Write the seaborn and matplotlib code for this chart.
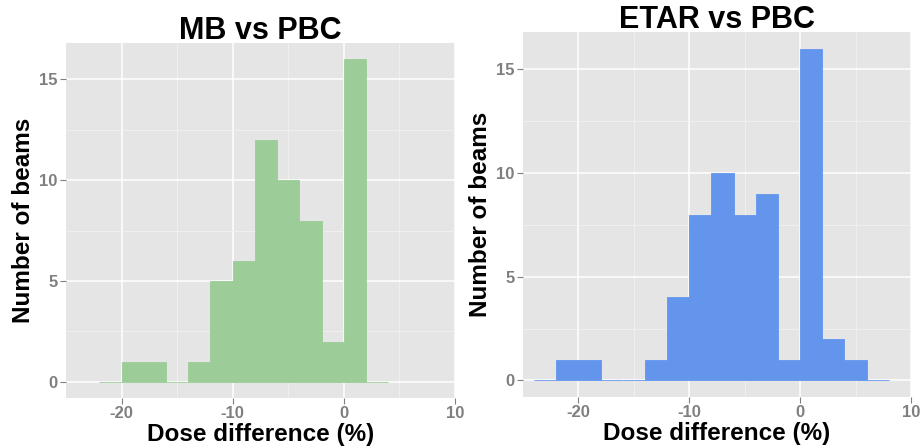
import numpy as np
import pandas as pd
import matplotlib
matplotlib.use("Agg")
import matplotlib.pyplot as plt
import seaborn as sns

# Histogram bins (2 % wide) and beam counts per bin
mb_edges = [-22, -20, -18, -16, -14, -12, -10, -8, -6, -4, -2, 0, 2, 4]
mb_counts = [0, 1, 1, 0, 1, 5, 6, 12, 10, 8, 2, 16, 0]

etar_edges = [-24, -22, -20, -18, -16, -14, -12, -10, -8, -6, -4, -2, 0, 2, 4, 6, 8]
etar_counts = [0, 1, 1, 0, 0, 1, 4, 8, 10, 8, 9, 1, 16, 2, 1, 0]

titles = ["MB vs PBC", "ETAR vs PBC"]
x_label = "Dose difference (%)"
y_label = "Number of beams"
x_ticks = [-20, -10, 0, 10]
y_ticks = [0, 5, 10, 15]

sns.set_theme(style="darkgrid", rc={
    "axes.facecolor": "#E5E5E5",
    "grid.color": "white",
    "axes.edgecolor": "#E5E5E5",
})
plt.rcParams["font.family"] = ["Liberation Sans", "DejaVu Sans"]
plt.rcParams["axes.unicode_minus"] = False

fig = plt.figure(figsize=(9.22, 4.48), dpi=100)
ax_left = fig.add_axes([0.0716, 0.1116, 0.4219, 0.7924])
ax_right = fig.add_axes([0.5672, 0.1138, 0.4208, 0.8147])

panels = [
    (ax_left, mb_edges, mb_counts, "#9CCD99", titles[0]),
    (ax_right, etar_edges, etar_counts, "#6495ED", titles[1]),
]

for ax, edges, counts, color, title in panels:
    centers = (np.array(edges[:-1]) + np.array(edges[1:])) / 2
    df = pd.DataFrame({"dose": centers, "n": counts})
    sns.histplot(data=df, x="dose", weights="n", bins=edges, ax=ax,
                 color=color, alpha=1.0, edgecolor=color, linewidth=0.6)
    ax.set_xlim(-25, 10)
    ax.set_ylim(-0.8, 16.8)
    ax.set_xticks(x_ticks)
    ax.set_yticks(y_ticks)
    ax.set_xticks([-15, -5, 5], minor=True)
    ax.set_yticks([2.5, 7.5, 12.5], minor=True)
    ax.grid(which="major", color="white", linewidth=1.1)
    ax.grid(which="minor", color="#F2F2F2", linewidth=0.6)
    ax.set_axisbelow(True)
    ax.tick_params(axis="both", which="major", length=4, width=0.8,
                   color="#7F7F7F", labelcolor="#7F7F7F", labelsize=12,
                   bottom=True, left=True, pad=2)
    ax.tick_params(which="minor", length=0)
    for lbl in ax.get_xticklabels() + ax.get_yticklabels():
        lbl.set_fontweight("bold")
    for s in ax.spines.values():
        s.set_visible(False)
    ax.set_xlabel(x_label, fontsize=17.5, fontweight="bold", color="black", labelpad=1)
    ax.set_ylabel(y_label, fontsize=17.5, fontweight="bold", color="black", labelpad=3)
    ax.set_title(title, fontsize=22, fontweight="bold", color="black", pad=3)

fig.savefig("out.png", dpi=100)
